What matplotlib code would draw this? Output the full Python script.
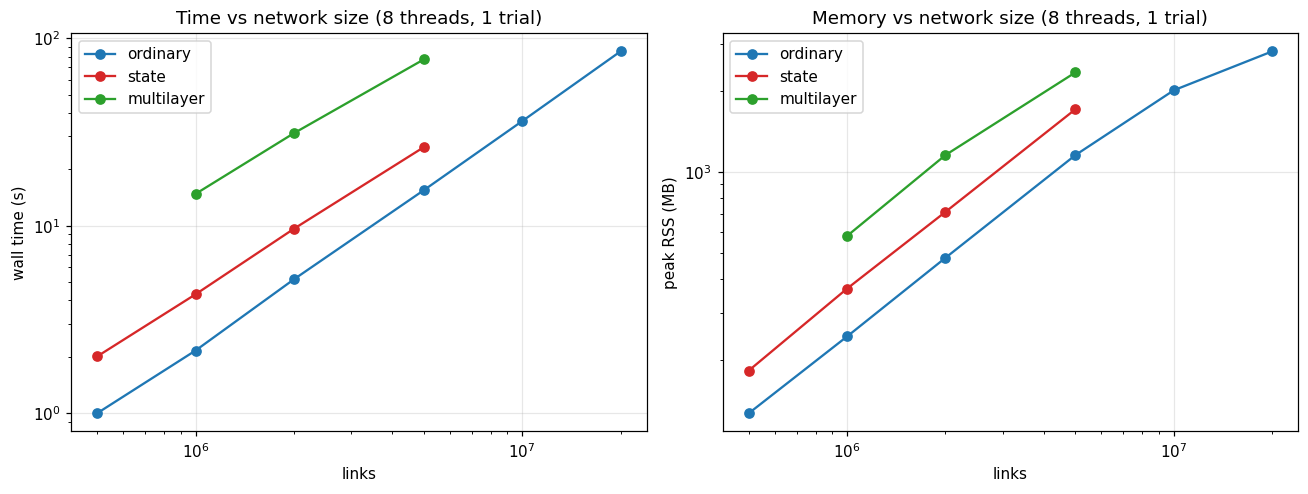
import matplotlib
matplotlib.use("Agg")
import matplotlib.pyplot as plt

# ========================= Data =========================
LINKS = [5e5, 1e6, 2e6, 5e6, 1e7, 2e7]

time_ordinary = [1.0, 2.16, 5.18, 15.5, 36.2, 85.3]
time_state = [2.01, 4.31, 9.64, 26.3]
time_multilayer = [14.8, 31.2, 77.3]

mem_ordinary = [127, 245, 480, 1156, 2012, 2806]
mem_state = [183, 369, 711, 1711]
mem_multilayer = [579, 1156, 2345]

# ========================= Plotting =========================
DPI = 110
fig, (ax1, ax2) = plt.subplots(1, 2, figsize=(1308 / DPI, 494 / DPI), dpi=DPI)

ax1.plot(LINKS, time_ordinary, marker='o', color='tab:blue', label='ordinary')
ax1.plot(LINKS[:4], time_state, marker='o', color='tab:red', label='state')
ax1.plot(LINKS[1:4], time_multilayer, marker='o', color='tab:green', label='multilayer')
ax1.set_xscale('log')
ax1.set_yscale('log')
ax1.set_title('Time vs network size (8 threads, 1 trial)')
ax1.set_xlabel('links')
ax1.set_ylabel('wall time (s)')
ax1.grid(True, alpha=0.3)
ax1.legend(loc='upper left')

ax2.plot(LINKS, mem_ordinary, marker='o', color='tab:blue', label='ordinary')
ax2.plot(LINKS[:4], mem_state, marker='o', color='tab:red', label='state')
ax2.plot(LINKS[1:4], mem_multilayer, marker='o', color='tab:green', label='multilayer')
ax2.set_xscale('log')
ax2.set_yscale('log')
ax2.set_title('Memory vs network size (8 threads, 1 trial)')
ax2.set_xlabel('links')
ax2.set_ylabel('peak RSS (MB)')
ax2.grid(True, alpha=0.3)
ax2.legend(loc='upper left')

fig.subplots_adjust(left=0.0543, right=0.9926, top=0.9326, bottom=0.1269, wspace=0.132)
plt.savefig('out.png', dpi=DPI)
